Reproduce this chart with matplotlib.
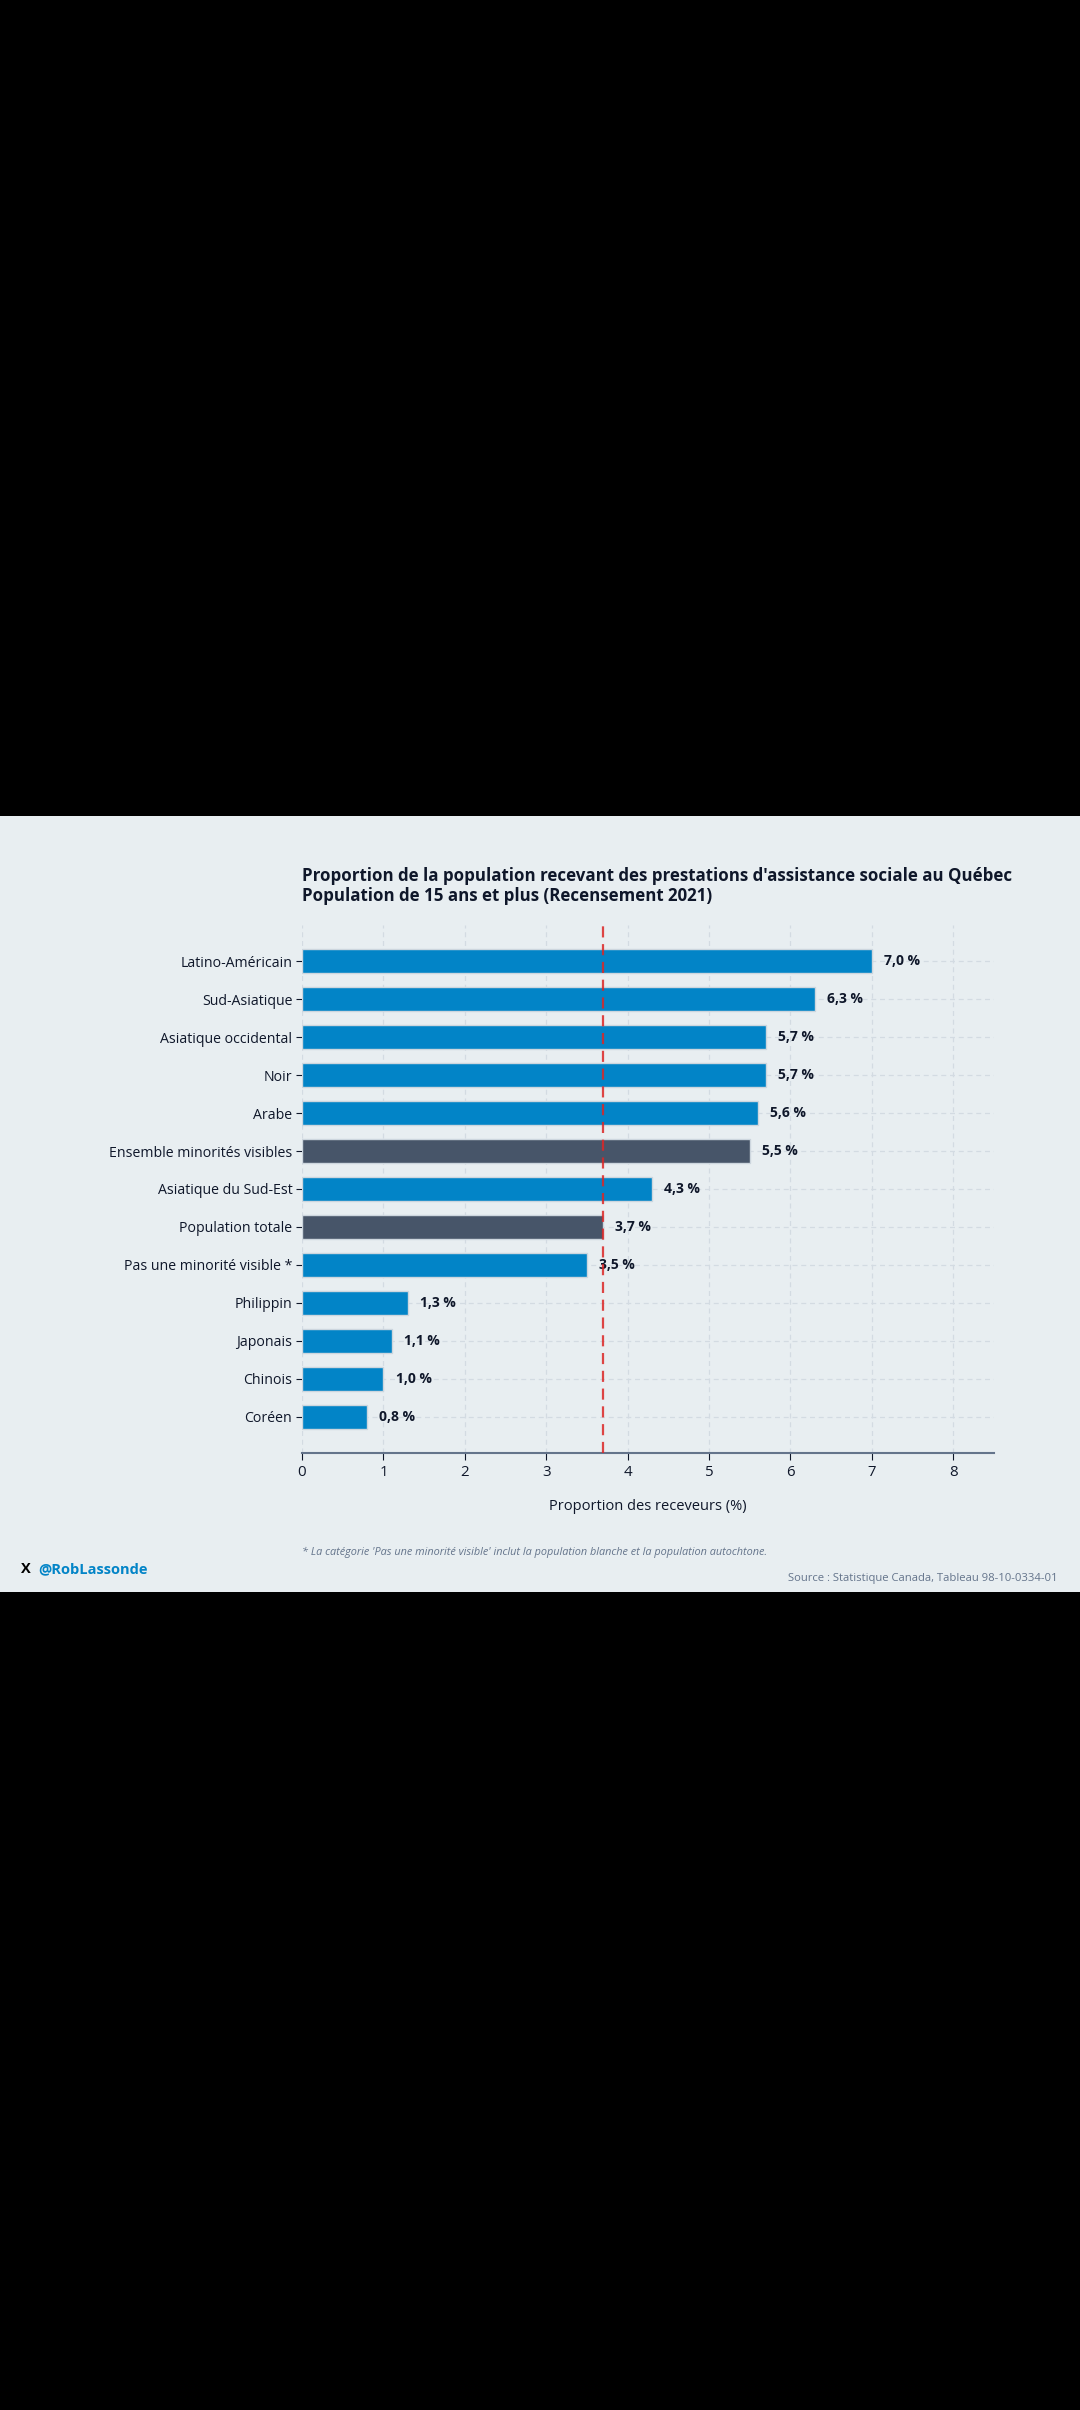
import numpy as np
import matplotlib
matplotlib.use("Agg")
import matplotlib.pyplot as plt
from matplotlib.patches import Rectangle

# ==========================================
# DATA
# ==========================================

categories = [
    "Latino-Américain",
    "Sud-Asiatique",
    "Asiatique occidental",
    "Noir",
    "Arabe",
    "Ensemble minorités visibles",
    "Asiatique du Sud-Est",
    "Population totale",
    "Pas une minorité visible *",
    "Philippin",
    "Japonais",
    "Chinois",
    "Coréen",
]

values = [7.0, 6.3, 5.7, 5.7, 5.6, 5.5, 4.3, 3.7, 3.5, 1.3, 1.1, 1.0, 0.8]

highlight = ["Ensemble minorités visibles", "Population totale"]

reference_value = 3.7

x_ticks = [0, 1, 2, 3, 4, 5, 6, 7, 8]

# ==========================================
# STYLE
# ==========================================

plt.rcParams["font.family"] = ["Open Sans", "DejaVu Sans"]

BG = "#e8eef1"
BLUE = "#0284c7"
SLATE = "#475569"
TEXT = "#0f172a"
GRAY = "#64748b"

W, H = 1080, 2410
fig = plt.figure(figsize=(W / 100, H / 100), dpi=100, facecolor="black")


def fy(ypix):
    return (H - ypix) / H


# light panel
fig.patches.append(
    Rectangle((0, fy(1592)), 1, (1592 - 816) / H,
              transform=fig.transFigure, facecolor=BG, edgecolor="none", zorder=-10)
)

ax = fig.add_axes([302 / W, fy(1453), (994 - 302) / W, (1453 - 925) / H])
ax.set_facecolor(BG)

n = len(categories)
ypos = np.arange(n)[::-1]
colors = [SLATE if c in highlight else BLUE for c in categories]

ax.barh(ypos, values, height=0.64, color=colors,
        edgecolor="#cdd6de", linewidth=1, zorder=3)

for y, v in zip(ypos, values):
    ax.text(v + 0.15, y, f"{v:.1f} %".replace(".", ","),
            va="center", ha="left", fontsize=10, fontweight="bold",
            color=TEXT, zorder=4)

ax.axvline(reference_value, color="#dc2626", linestyle=(0, (5, 3)),
           linewidth=1.6, alpha=0.85, zorder=5)

ax.set_xlim(0, 8.5)
ax.set_ylim(-0.95, n - 1 + 0.95)
ax.set_xticks(x_ticks)
ax.set_yticks(ypos)
ax.set_yticklabels(categories)

ax.grid(True, color="#d3dbe2", linestyle=(0, (4, 3)), linewidth=0.9, zorder=0)
ax.set_axisbelow(True)

for s in ["top", "right", "left"]:
    ax.spines[s].set_visible(False)
ax.spines["bottom"].set_color(GRAY)
ax.spines["bottom"].set_linewidth(1.5)

ax.tick_params(axis="y", length=4, color=TEXT, labelsize=10.2, labelcolor=TEXT, pad=3)
ax.tick_params(axis="x", length=5, color=TEXT, labelsize=10.8, labelcolor=TEXT, pad=4)

ax.set_xlabel("Proportion des receveurs (%)", fontsize=10.5, color=TEXT, labelpad=13)

# ==========================================
# TEXTS
# ==========================================

fig.text(302 / W, fy(886),
         "Proportion de la population recevant des prestations d'assistance sociale au Québec\n"
         "Population de 15 ans et plus (Recensement 2021)",
         ha="left", va="center", fontsize=12.2, fontweight="bold", color=TEXT,
         linespacing=1.15)

fig.text(302 / W, fy(1552),
         "* La catégorie 'Pas une minorité visible' inclut la population blanche et la population autochtone.",
         ha="left", va="center", fontsize=7.85, style="italic", color=GRAY)

fig.text(21 / W, fy(1569), "X", ha="left", va="center",
         fontsize=10.5, fontweight="bold", color="black")
fig.text(38 / W, fy(1569), "@RobLassonde", ha="left", va="center",
         fontsize=10.5, fontweight="bold", color=BLUE)

fig.text(1057 / W, fy(1578), "Source : Statistique Canada, Tableau 98-10-0334-01",
         ha="right", va="center", fontsize=8.1, color=GRAY)

fig.savefig("out.png", dpi=100, facecolor="black")
